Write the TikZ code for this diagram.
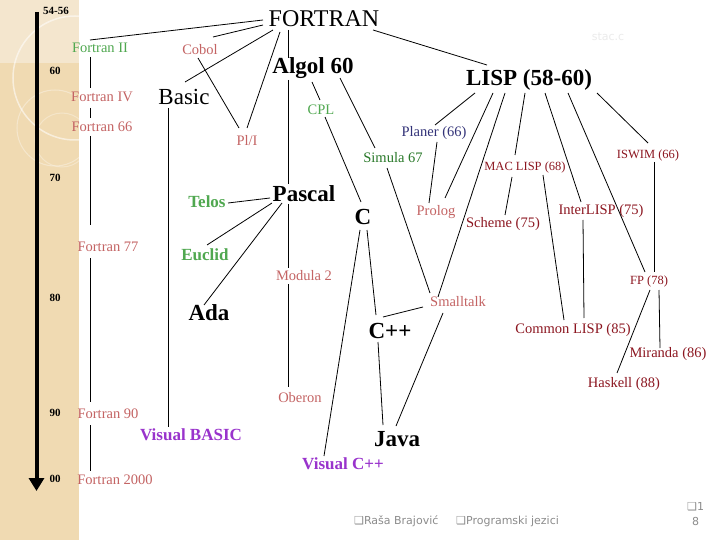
\documentclass[tikz,border=0pt]{standalone}
\usepackage{fontspec}
\setmainfont{Liberation Serif}
\newfontfamily\footfont{DejaVu Sans}
\usetikzlibrary{arrows.meta}
\definecolor{lgreen}{RGB}{80,168,80}
\definecolor{dgreen}{RGB}{40,120,40}
\definecolor{rose}{RGB}{196,100,100}
\definecolor{dred}{RGB}{140,22,32}
\definecolor{navy}{RGB}{50,50,120}
\definecolor{vpurple}{RGB}{153,51,204}
\definecolor{strip}{RGB}{240,218,178}
\definecolor{striplight}{RGB}{244,230,206}
\definecolor{footgray}{RGB}{140,140,140}
\tikzset{
  lbl/.style={inner sep=0pt, anchor=center},
  big/.style={lbl, font=\fontsize{23}{23}\selectfont\bfseries},
  bigr/.style={lbl, font=\fontsize{23}{23}\selectfont},
  small/.style={lbl, font=\fontsize{14.5}{14.5}\selectfont},
  tiny/.style={lbl, font=\fontsize{12.5}{12.5}\selectfont},
  mid/.style={lbl, font=\fontsize{17}{17}\selectfont\bfseries},
  year/.style={lbl, font=\fontsize{11}{11}\selectfont\bfseries},
  foot/.style={lbl, anchor=west, text=footgray, font=\footfont\fontsize{11}{11}\selectfont},
  edge/.style={draw=black, line width=0.8pt},
}
\begin{document}
\begin{tikzpicture}[x=1pt,y=-1pt]
\useasboundingbox (0,0) rectangle (720,540);
\fill[white] (0,0) rectangle (720,540);
% left strip
\fill[strip] (0,0) rectangle (79,540);
\begin{scope}
\clip (0,0) rectangle (79,540);
\fill[striplight] (0,0) rectangle (79,63);
\draw[white, opacity=0.55, line width=1.5pt] (75,78) circle (62);
\draw[white, opacity=0.35, line width=1pt] (55,128) circle (38);
\draw[white, opacity=0.3, line width=1pt] (62,140) circle (27);
\end{scope}
% timeline
\coordinate (tstart) at (36.5,12);
\coordinate (tend) at (36.5,491);
\draw[line width=4pt, -{Triangle[width=15pt,length=13pt]}] (tstart) -- (tend);
\node[year] (y54) at (56,11) {54-56};
\node[year] (y60) at (55,71) {60};
\node[year] (y70) at (55,178) {70};
\node[year] (y80) at (55,298) {80};
\node[year] (y90) at (55,413) {90};
\node[year] (y00) at (55,479) {00};
% nodes
\node[lbl, font=\fontsize{24}{24}\selectfont] (fortran) at (324,19) {FORTRAN};
\node[lbl, text=black!8, font=\fontsize{11}{11}\selectfont\footfont] (stac) at (608,37) {stac.c};
\node[small, text=lgreen] (f2) at (100,48) {Fortran II};
\node[small, text=rose] (cobol) at (200,50) {Cobol};
\node[big] (algol) at (313,68) {Algol 60};
\node[big] (lisp) at (529,80) {LISP (58-60)};
\node[small, text=rose] (f4) at (102,97) {Fortran IV};
\node[bigr] (basic) at (184,97) {Basic};
\node[small, text=lgreen] (cpl) at (321,110) {CPL};
\node[small, text=rose] (f66) at (102,127) {Fortran 66};
\node[small, text=rose] (pl1) at (247,141) {Pl/I};
\node[small, text=navy] (planer) at (434,133) {Planer (66)};
\node[small, text=dgreen] (simula) at (393,158) {Simula 67};
\node[tiny, text=dred] (iswim) at (648,155) {ISWIM (66)};
\node[tiny, text=dred] (maclisp) at (525,167) {MAC LISP (68)};
\node[mid, text=lgreen] (telos) at (207,202) {Telos};
\node[big] (pascal) at (304,194) {Pascal};
\node[big] (c) at (363,217) {C};
\node[small, text=rose] (prolog) at (436,212) {Prolog};
\node[small, text=dred] (scheme) at (503,224) {Scheme (75)};
\node[small, text=dred] (interlisp) at (601,211) {InterLISP (75)};
\node[small, text=rose] (f77) at (108,247) {Fortran 77};
\node[mid, text=lgreen] (euclid) at (205,255) {Euclid};
\node[small, text=rose] (modula) at (304,276) {Modula 2};
\node[tiny, text=dred] (fp) at (649,281) {FP (78)};
\node[small, text=rose] (smalltalk) at (458,302) {Smalltalk};
\node[big] (ada) at (209,313) {Ada};
\node[big] (cpp) at (390,331) {C++};
\node[small, text=dred] (commonlisp) at (573,330) {Common LISP (85)};
\node[small, text=dred] (miranda) at (668,354) {Miranda (86)};
\node[small, text=dred] (haskell) at (624,384) {Haskell (88)};
\node[small, text=rose] (oberon) at (300,398) {Oberon};
\node[small, text=rose] (f90) at (108,414) {Fortran 90};
\node[mid, text=vpurple] (vbasic) at (191,435) {Visual BASIC};
\node[big] (java) at (397,439) {Java};
\node[mid, text=vpurple] (vcpp) at (343,464) {Visual C++};
\node[small, text=rose] (f2000) at (115,480) {Fortran 2000};
% footer
\node[foot] (author) at (354,521) {❑Raša Brajović};
\node[foot] (course) at (456,521) {❑Programski jezici};
\node[foot] (pg1) at (687,507) {❑1};
\node[foot] (pg2) at (692,521) {8};
% connectors
\draw[edge] ([shift={(-61,1)}]fortran.center) -- ([shift={(-10,-8)}]f2.center);
\draw[edge] ([shift={(-61,6)}]fortran.center) -- ([shift={(13,-13)}]cobol.center);
\draw[edge] ([shift={(-51,11)}]fortran.center) -- ([shift={(1,-15)}]basic.center);
\draw[edge] ([shift={(-44,13)}]fortran.center) -- ([shift={(0,-13)}]pl1.center);
\draw[edge] ([shift={(-36,11)}]fortran.center) -- ([shift={(-25,-10)}]algol.center);
\draw[edge] ([shift={(49,11)}]fortran.center) -- ([shift={(-42,-15)}]lisp.center);
\draw[edge] ([shift={(-10,9)}]f2.center) -- ([shift={(-12,-9)}]f4.center);
\draw[edge] ([shift={(-12,11)}]f4.center) -- ([shift={(-12,-9)}]f66.center);
\draw[edge] ([shift={(-12,9)}]f66.center) -- ([shift={(-18,-22)}]f77.center);
\draw[edge] ([shift={(-18,11)}]f77.center) -- ([shift={(-18,-12)}]f90.center);
\draw[edge] ([shift={(-18,11)}]f90.center) -- ([shift={(-25,-9)}]f2000.center);
\draw[edge] ([shift={(-2,8)}]cobol.center) -- ([shift={(-8,-13)}]pl1.center);
\draw[edge] ([shift={(-16,11)}]basic.center) -- ([shift={(-23,-8)}]vbasic.center);
\draw[edge] ([shift={(-1,14)}]algol.center) -- ([shift={(-1,-10)}]cpl.center);
\draw[edge] ([shift={(27,10)}]algol.center) -- ([shift={(-18,-10)}]simula.center);
\draw[edge] ([shift={(-25,12)}]algol.center) -- ([shift={(-16,-10)}]pascal.center);
\draw[edge] ([shift={(-16,10)}]pascal.center) -- ([shift={(-16,-8)}]modula.center);
\draw[edge] ([shift={(-16,8)}]modula.center) -- ([shift={(-12,-11)}]oberon.center);
\draw[edge] ([shift={(4,7)}]cpl.center) -- ([shift={(-2,-15)}]c.center);
\draw[edge] ([shift={(-54,13)}]lisp.center) -- ([shift={(1,-8)}]planer.center);
\draw[edge] ([shift={(-36,13)}]lisp.center) -- ([shift={(9,-14)}]prolog.center);
\draw[edge] ([shift={(-24,13)}]lisp.center) -- ([shift={(-20,-5)}]smalltalk.center);
\draw[edge] ([shift={(-4,13)}]lisp.center) -- ([shift={(-10,-12)}]maclisp.center);
\draw[edge] ([shift={(16,13)}]lisp.center) -- ([shift={(-20,-9)}]interlisp.center);
\draw[edge] ([shift={(39,13)}]lisp.center) -- ([shift={(-4,-9)}]fp.center);
\draw[edge] ([shift={(68,13)}]lisp.center) -- ([shift={(0,-12)}]iswim.center);
\draw[edge] ([shift={(3,9)}]planer.center) -- ([shift={(-7,-9)}]prolog.center);
\draw[edge] ([shift={(-6,10)}]simula.center) -- ([shift={(-28,-9)}]smalltalk.center);
\draw[edge] ([shift={(-13,10)}]maclisp.center) -- ([shift={(2,-9)}]scheme.center);
\draw[edge] ([shift={(18,8)}]maclisp.center) -- ([shift={(-9,-10)}]commonlisp.center);
\draw[edge] ([shift={(-18,9)}]interlisp.center) -- ([shift={(11,-12)}]commonlisp.center);
\draw[edge] ([shift={(6,7)}]iswim.center) -- ([shift={(5,-9)}]fp.center);
\draw[edge] ([shift={(10,9)}]fp.center) -- ([shift={(-8,-6)}]miranda.center);
\draw[edge] ([shift={(1,9)}]fp.center) -- ([shift={(-7,-11)}]haskell.center);
\draw[edge] ([shift={(-34,4)}]pascal.center) -- ([shift={(21,1)}]telos.center);
\draw[edge] ([shift={(-32,9)}]pascal.center) -- ([shift={(2,-10)}]euclid.center);
\draw[edge] ([shift={(-22,9)}]pascal.center) -- ([shift={(-5,-8)}]ada.center);
\draw[edge] ([shift={(4,13)}]c.center) -- ([shift={(-14,-16)}]cpp.center);
\draw[edge] ([shift={(-3,13)}]c.center) -- ([shift={(-19,-8)}]vcpp.center);
\draw[edge] ([shift={(-35,5)}]smalltalk.center) -- ([shift={(-7,-14)}]cpp.center);
\draw[edge] ([shift={(-12,11)}]cpp.center) -- ([shift={(-14,-14)}]java.center);
\draw[edge] ([shift={(-15,11)}]smalltalk.center) -- ([shift={(-1,-13)}]java.center);
\end{tikzpicture}
\end{document}
